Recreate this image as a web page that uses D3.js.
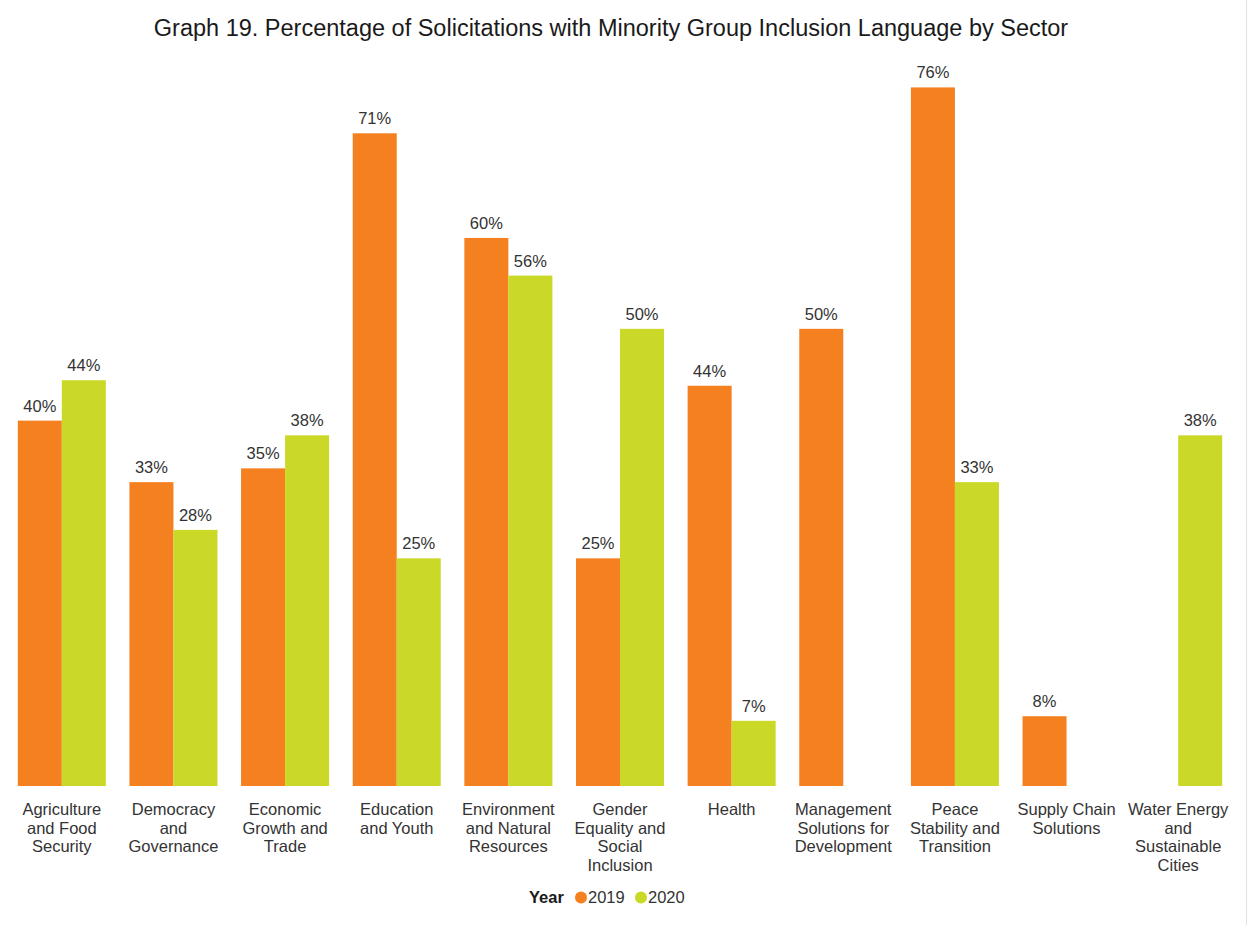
<!DOCTYPE html>
<html>
<head>
<meta charset="utf-8">
<script src="https://cdn.jsdelivr.net/npm/d3@7"></script>
<style>
  body { margin: 0; background: #fff; }
  svg { display: block; font-family: "Liberation Sans", Arial, sans-serif; }
</style>
</head>
<body>
<div id="chart"></div>
<script>
// data
const categories = [
  'Agriculture and Food Security',
  'Democracy and Governance',
  'Economic Growth and Trade',
  'Education and Youth',
  'Environment and Natural Resources',
  'Gender Equality and Social Inclusion',
  'Health',
  'Management Solutions for Development',
  'Peace Stability and Transition',
  'Supply Chain Solutions',
  'Water Energy and Sustainable Cities',
];
// wrapped tick labels as shown under each group
const tickLabels = [
  ['Agriculture', 'and Food', 'Security'],
  ['Democracy', 'and', 'Governance'],
  ['Economic', 'Growth and', 'Trade'],
  ['Education', 'and Youth'],
  ['Environment', 'and Natural', 'Resources'],
  ['Gender', 'Equality and', 'Social', 'Inclusion'],
  ['Health'],
  ['Management', 'Solutions for', 'Development'],
  ['Peace', 'Stability and', 'Transition'],
  ['Supply Chain', 'Solutions'],
  ['Water Energy', 'and', 'Sustainable', 'Cities'],
];
const years = ['2019', '2020'];
const values2019 = [39.8, 33.1, 34.6, 71.1, 59.7, 24.8, 43.6, 49.8, 76.1, 7.6, null];
const values2020 = [44.2, 27.9, 38.2, 24.8, 55.6, 49.8, 7.1, null, 33.1, null, 38.2];
const colors = ['#F58020', '#CAD927'];

const width = 1248;
const height = 925;
const baseline = 786;
const fontSize = 16.5;

const svg = d3.select('#chart').append('svg').attr('width', width).attr('height', height);

svg.append('line')
  .attr('x1', width - 1.5).attr('x2', width - 1.5)
  .attr('y1', 0).attr('y2', height)
  .attr('stroke', '#e2e2e2');

svg.append('text')
  .attr('x', 611)
  .attr('y', 36)
  .attr('text-anchor', 'middle')
  .attr('font-size', 23.5)
  .attr('fill', '#1a1a1a')
  .text('Graph 19. Percentage of Solicitations with Minority Group Inclusion Language by Sector');

const x0 = d3.scaleBand()
  .domain(categories)
  .range([6, 1234])
  .paddingInner(0.2115)
  .paddingOuter(0.1057);
const x1 = d3.scaleBand().domain(years).range([0, x0.bandwidth()]);
const y = d3.scaleLinear().domain([0, 80]).range([baseline, baseline - 80 * 9.18]);

const rows = categories.map((c, i) => ({
  cat: c,
  bars: [
    { year: '2019', value: values2019[i] },
    { year: '2020', value: values2020[i] },
  ].filter((d) => d.value != null),
}));

const groups = svg.selectAll('.group')
  .data(rows)
  .enter()
  .append('g')
  .attr('class', 'group')
  .attr('transform', (d) => `translate(${x0(d.cat)},0)`);

groups.selectAll('rect')
  .data((d) => d.bars)
  .enter()
  .append('rect')
  .attr('x', (d) => x1(d.year))
  .attr('y', (d) => y(d.value))
  .attr('width', x1.bandwidth())
  .attr('height', (d) => baseline - y(d.value))
  .attr('fill', (d) => colors[years.indexOf(d.year)]);

groups.selectAll('.bar-label')
  .data((d) => d.bars)
  .enter()
  .append('text')
  .attr('class', 'bar-label')
  .attr('x', (d) => x1(d.year) + x1.bandwidth() / 2)
  .attr('y', (d) => y(d.value) - 9)
  .attr('text-anchor', 'middle')
  .attr('font-size', fontSize)
  .attr('fill', '#333')
  .text((d) => Math.round(d.value) + '%');

// category axis
const xAxis = d3.axisBottom(x0).tickSize(0).tickFormat('');
const axisG = svg.append('g').attr('transform', `translate(0,${baseline})`).call(xAxis);
axisG.select('.domain').remove();

axisG.selectAll('.tick').each(function (d, i) {
  const t = d3.select(this).append('text')
    .attr('text-anchor', 'middle')
    .attr('font-size', fontSize)
    .attr('fill', '#333')
    .attr('y', 29);
  tickLabels[i].forEach((line, j) => {
    t.append('tspan').attr('x', 0).attr('dy', j === 0 ? 0 : 18.6).text(line);
  });
});

// legend
const legend = svg.append('g').attr('transform', 'translate(529,903)');
legend.append('text')
  .attr('x', 0)
  .attr('font-size', fontSize)
  .attr('font-weight', 'bold')
  .attr('fill', '#1a1a1a')
  .text('Year');
const legendX = [52, 112];
years.forEach((yr, i) => {
  legend.append('circle')
    .attr('cx', legendX[i])
    .attr('cy', -5.5)
    .attr('r', 6)
    .attr('fill', colors[i]);
  legend.append('text')
    .attr('x', legendX[i] + 7)
    .attr('font-size', fontSize)
    .attr('fill', '#333')
    .text(yr);
});
</script>
</body>
</html>
